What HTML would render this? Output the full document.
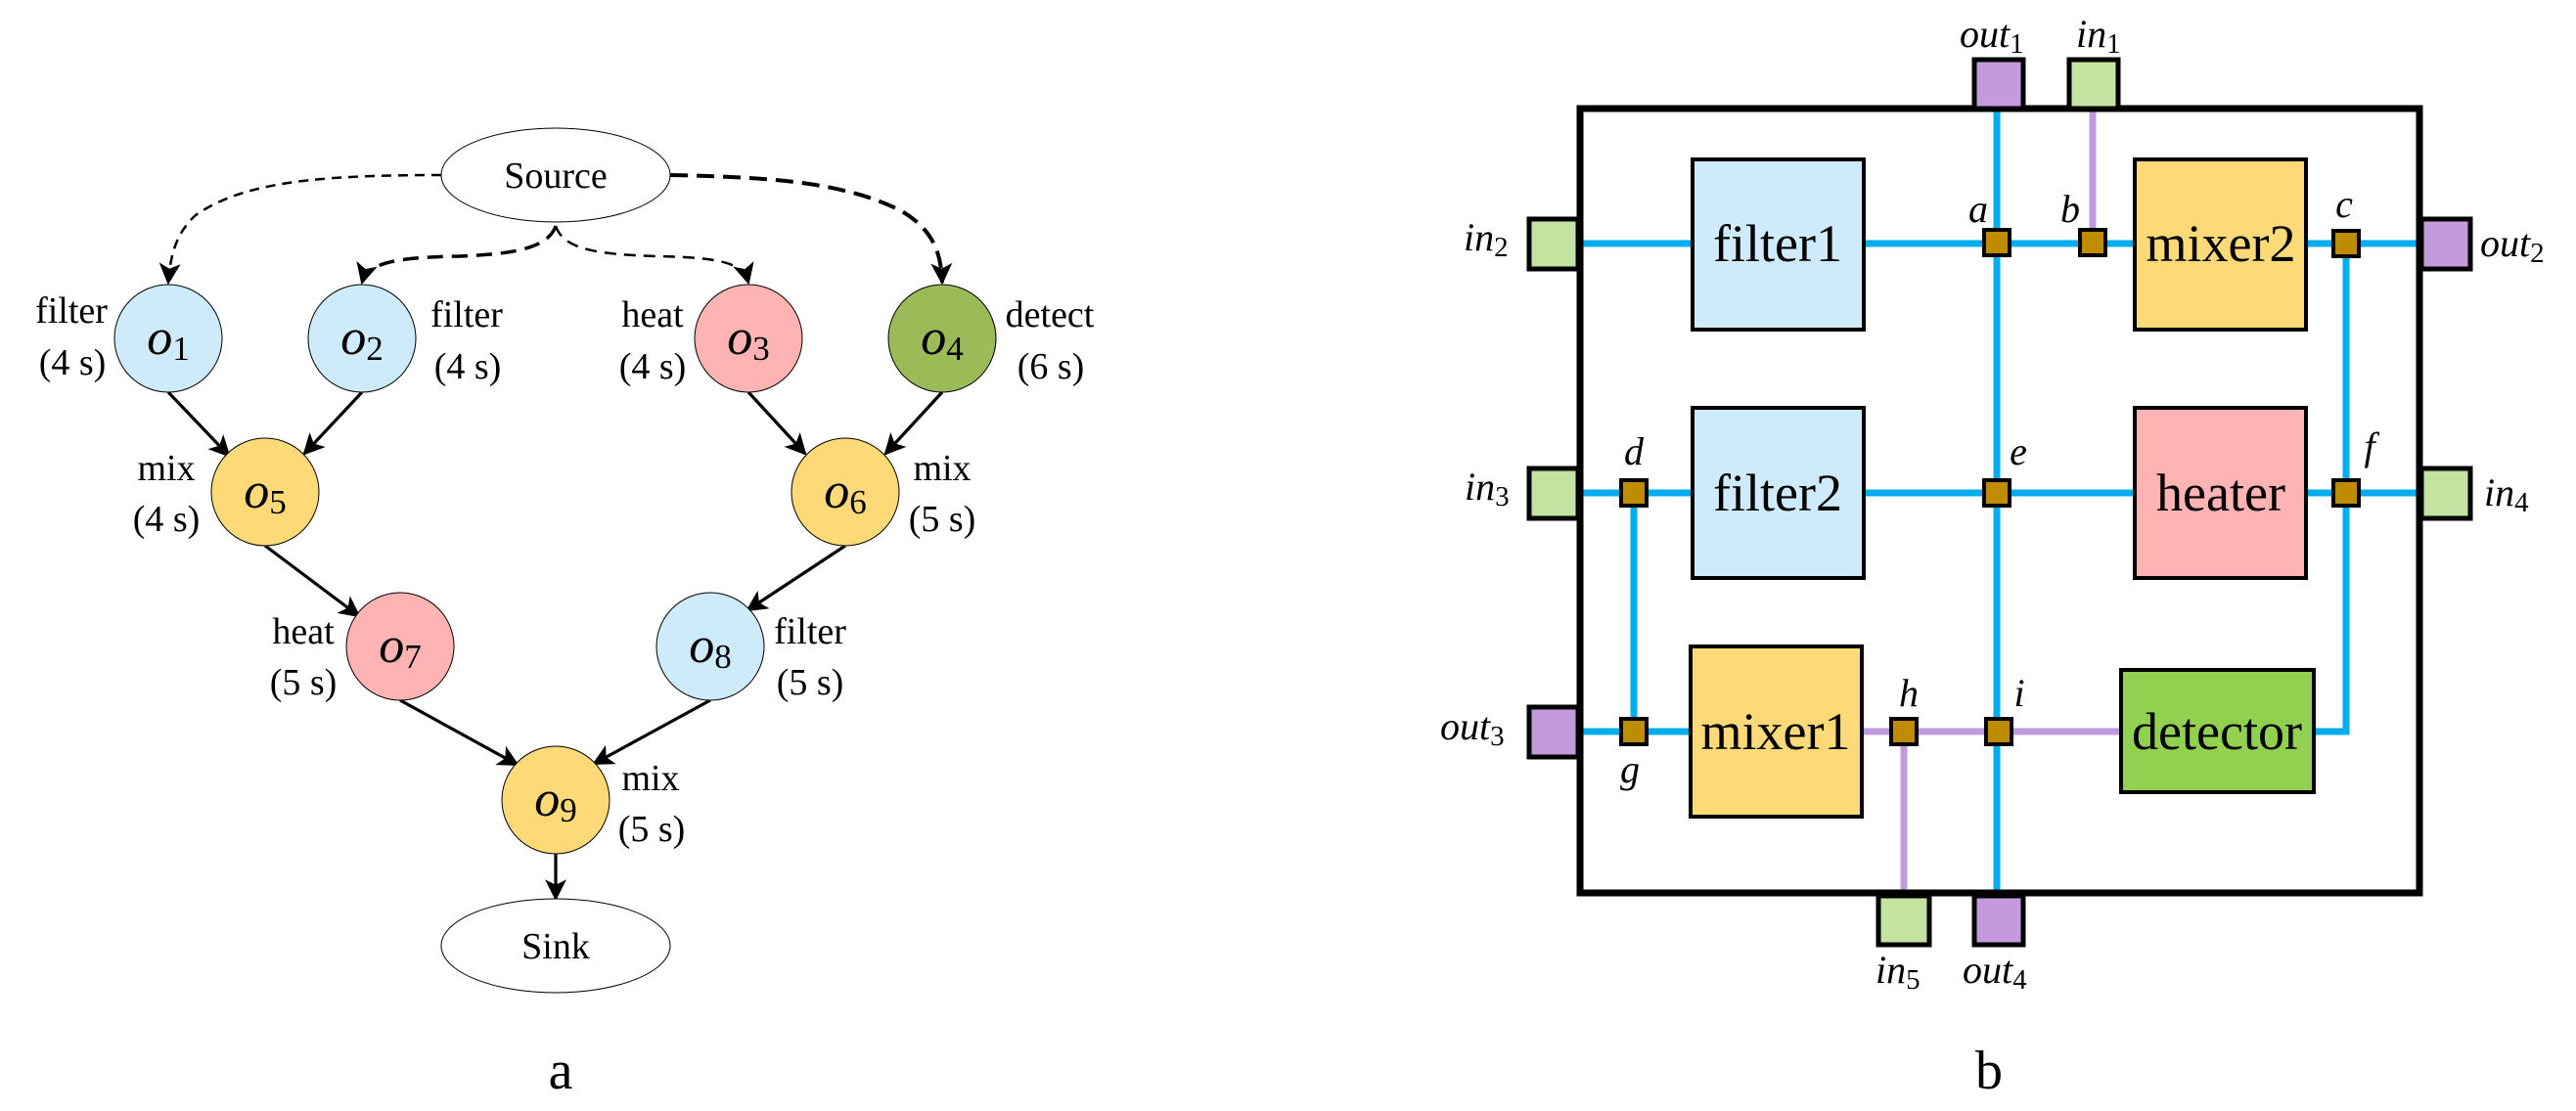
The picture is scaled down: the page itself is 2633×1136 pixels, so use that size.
<!DOCTYPE html>
<html><head><meta charset="utf-8"><style>
html,body{margin:0;padding:0;background:#fff;}
svg{display:block;}
svg, svg text, svg tspan{font-family:"Liberation Serif","Times New Roman","DejaVu Serif",serif !important;}
text{fill:#000;}
.l{font-size:38px;}
.o{font-size:52px;font-style:italic;}
.s{font-size:35px;font-style:normal;}
.bt{font-size:54px;}
.it{font-style:italic;font-size:40px;}
.sb{font-size:29px;font-style:normal;}
</style></head><body>
<svg width="2633" height="1136" viewBox="0 0 2633 1136" xmlns="http://www.w3.org/2000/svg" font-family="Liberation Serif, serif">
<defs>
<marker id="a" viewBox="0 0 20 20" refX="18" refY="10" markerWidth="22" markerHeight="22" orient="auto" markerUnits="userSpaceOnUse"><path d="M0,0 L20,10 L0,20 L5,10 z" fill="#000"/></marker>
</defs>
<!-- panel a -->
<g fill="none" stroke="#000">
<path d="M451,179 C330,179 250,185 200,220 C178,240 174,265 172,289" stroke-width="2.5" stroke-dasharray="10,7" marker-end="url(#a)"/>
<path d="M685,179 C780,181 860,185 920,215 C955,235 962,260 963,289" stroke-width="4" stroke-dasharray="18,9" marker-end="url(#a)"/>
<path d="M568,231 C560,255 520,260 470,262 C400,263 375,270 370,289" stroke-width="3.5" stroke-dasharray="16,9" marker-end="url(#a)"/>
<path d="M568,231 C576,255 610,260 670,262 C740,263 760,270 765,289" stroke-width="2.5" stroke-dasharray="12,8" marker-end="url(#a)"/>
<g stroke-width="3.2">
<line x1="172" y1="401" x2="234" y2="466" marker-end="url(#a)"/>
<line x1="370" y1="401" x2="311" y2="464" marker-end="url(#a)"/>
<line x1="765" y1="401" x2="823" y2="464" marker-end="url(#a)"/>
<line x1="963" y1="401" x2="905" y2="464" marker-end="url(#a)"/>
<line x1="271" y1="558" x2="367" y2="630" marker-end="url(#a)"/>
<line x1="864" y1="558" x2="764" y2="624" marker-end="url(#a)"/>
<line x1="409" y1="716" x2="529" y2="782" marker-end="url(#a)"/>
<line x1="726" y1="716" x2="607" y2="781" marker-end="url(#a)"/>
<line x1="568" y1="873" x2="568" y2="919" marker-end="url(#a)"/>
</g>
</g>
<g stroke="#000" stroke-width="1">
<ellipse cx="568" cy="179" rx="117" ry="48" fill="#fff"/>
<ellipse cx="568" cy="967" rx="117" ry="48" fill="#fff"/>
<circle cx="172" cy="346" r="55" fill="#CDEBFB"/>
<circle cx="370" cy="346" r="55" fill="#CDEBFB"/>
<circle cx="765" cy="346" r="55" fill="#FFB3B3"/>
<circle cx="963" cy="346" r="55" fill="#9BBB59"/>
<circle cx="271" cy="503" r="55" fill="#FDDA77"/>
<circle cx="864" cy="503" r="55" fill="#FDDA77"/>
<circle cx="409" cy="661" r="55" fill="#FFB3B3"/>
<circle cx="726" cy="661" r="55" fill="#CDEBFB"/>
<circle cx="568" cy="818" r="55" fill="#FDDA77"/>
</g>
<text class="l" x="568" y="192" text-anchor="middle">Source</text>
<text class="l" x="568" y="980" text-anchor="middle">Sink</text>
<g text-anchor="middle">
<text class="o" x="172" y="362">o<tspan class="s" dy="6">1</tspan></text>
<text class="o" x="370" y="362">o<tspan class="s" dy="6">2</tspan></text>
<text class="o" x="765" y="362">o<tspan class="s" dy="6">3</tspan></text>
<text class="o" x="963" y="362">o<tspan class="s" dy="6">4</tspan></text>
<text class="o" x="271" y="519">o<tspan class="s" dy="6">5</tspan></text>
<text class="o" x="864" y="519">o<tspan class="s" dy="6">6</tspan></text>
<text class="o" x="409" y="677">o<tspan class="s" dy="6">7</tspan></text>
<text class="o" x="726" y="677">o<tspan class="s" dy="6">8</tspan></text>
<text class="o" x="568" y="834">o<tspan class="s" dy="6">9</tspan></text>
</g>
<g text-anchor="middle">
<text class="l" x="73" y="330">filter</text><text class="l" x="74" y="383">(4 s)</text>
<text class="l" x="477" y="334">filter</text><text class="l" x="478" y="387">(4 s)</text>
<text class="l" x="667" y="334">heat</text><text class="l" x="667" y="387">(4 s)</text>
<text class="l" x="1073" y="334">detect</text><text class="l" x="1074" y="387">(6 s)</text>
<text class="l" x="170" y="491">mix</text><text class="l" x="170" y="543">(4 s)</text>
<text class="l" x="963" y="491">mix</text><text class="l" x="963" y="543">(5 s)</text>
<text class="l" x="310" y="658">heat</text><text class="l" x="310" y="710">(5 s)</text>
<text class="l" x="828" y="658">filter</text><text class="l" x="828" y="710">(5 s)</text>
<text class="l" x="665" y="808">mix</text><text class="l" x="666" y="860">(5 s)</text>
</g>
<text x="573" y="1113" text-anchor="middle" style="font-size:56px">a</text>

<!-- panel b -->
<g stroke-width="7" fill="none">
<g stroke="#00AEEF">
<line x1="1615" y1="249" x2="1729" y2="249"/>
<line x1="1906" y1="249" x2="2182" y2="249"/>
<line x1="2357" y1="249" x2="2473" y2="249"/>
<line x1="1615" y1="504" x2="1729" y2="504"/>
<line x1="1906" y1="504" x2="2182" y2="504"/>
<line x1="2357" y1="504" x2="2473" y2="504"/>
<line x1="1615" y1="748" x2="1728" y2="748"/>
<path d="M2365,748 H2398 V249"/>
<line x1="2041" y1="111" x2="2041" y2="913"/>
<line x1="1670" y1="504" x2="1670" y2="748"/>
</g>
<g stroke="#BF9BDD">
<line x1="1903" y1="748" x2="2168" y2="748"/>
<line x1="2139" y1="111" x2="2139" y2="249"/>
<line x1="1946" y1="748" x2="1946" y2="913"/>
</g>
</g>
<rect x="1615" y="111" width="858" height="802" fill="none" stroke="#000" stroke-width="7"/>
<g stroke="#000" stroke-width="4">
<rect x="1730" y="163" width="175" height="174" fill="#CDEBFB"/>
<rect x="1730" y="417" width="175" height="174" fill="#CDEBFB"/>
<rect x="2182" y="163" width="175" height="174" fill="#FDDA77"/>
<rect x="2182" y="417" width="175" height="174" fill="#FFB3B3"/>
<rect x="1728" y="661" width="175" height="174" fill="#FDDA77"/>
<rect x="2168" y="685" width="197" height="125" fill="#92D050"/>
</g>
<g stroke="#000" stroke-width="5">
<rect x="2018" y="61" width="50" height="50" fill="#C39BDD"/>
<rect x="2115" y="61" width="50" height="50" fill="#C5E3A0"/>
<rect x="1563" y="224" width="50" height="51" fill="#C5E3A0"/>
<rect x="1563" y="479" width="50" height="51" fill="#C5E3A0"/>
<rect x="1563" y="723" width="50" height="51" fill="#C39BDD"/>
<rect x="2475" y="224" width="50" height="51" fill="#C39BDD"/>
<rect x="2475" y="479" width="50" height="51" fill="#C5E3A0"/>
<rect x="1920" y="916" width="52" height="50" fill="#C5E3A0"/>
<rect x="2018" y="916" width="50" height="50" fill="#C39BDD"/>
</g>
<g stroke="#000" stroke-width="4" fill="#BF8C00">
<rect x="2028" y="235" width="26" height="26"/>
<rect x="2126" y="235" width="26" height="26"/>
<rect x="2385" y="236" width="26" height="26"/>
<rect x="1657" y="491" width="26" height="26"/>
<rect x="2028" y="491" width="26" height="26"/>
<rect x="2385" y="491" width="26" height="26"/>
<rect x="1657" y="735" width="26" height="26"/>
<rect x="1933" y="735" width="26" height="26"/>
<rect x="2030" y="735" width="26" height="26"/>
</g>
<g text-anchor="middle">
<text class="bt" x="1817" y="267">filter1</text>
<text class="bt" x="1817" y="522">filter2</text>
<text class="bt" x="2270" y="267">mixer2</text>
<text class="bt" x="2270" y="522">heater</text>
<text class="bt" x="1815" y="766">mixer1</text>
<text class="bt" x="2266" y="766">detector</text>
</g>
<g text-anchor="middle">
<text class="it" x="2022" y="227">a</text>
<text class="it" x="2116" y="227">b</text>
<text class="it" x="2396" y="222">c</text>
<text class="it" x="1670" y="475">d</text>
<text class="it" x="2063" y="475">e</text>
<text class="it" x="2422" y="470">f</text>
<text class="it" x="1666" y="800">g</text>
<text class="it" x="1951" y="722">h</text>
<text class="it" x="2064" y="722">i</text>
</g>
<g>
<text class="it" x="2003" y="48">out<tspan class="sb" dy="6">1</tspan></text>
<text class="it" x="2122" y="48">in<tspan class="sb" dy="6">1</tspan></text>
<text class="it" x="1496" y="256">in<tspan class="sb" dy="6">2</tspan></text>
<text class="it" x="1497" y="511">in<tspan class="sb" dy="6">3</tspan></text>
<text class="it" x="1472" y="756">out<tspan class="sb" dy="6">3</tspan></text>
<text class="it" x="2535" y="262">out<tspan class="sb" dy="6">2</tspan></text>
<text class="it" x="2539" y="517">in<tspan class="sb" dy="6">4</tspan></text>
<text class="it" x="1917" y="1005">in<tspan class="sb" dy="6">5</tspan></text>
<text class="it" x="2006" y="1005">out<tspan class="sb" dy="6">4</tspan></text>
</g>
<text x="2033" y="1113" text-anchor="middle" style="font-size:56px">b</text>
</svg>
</body></html>
